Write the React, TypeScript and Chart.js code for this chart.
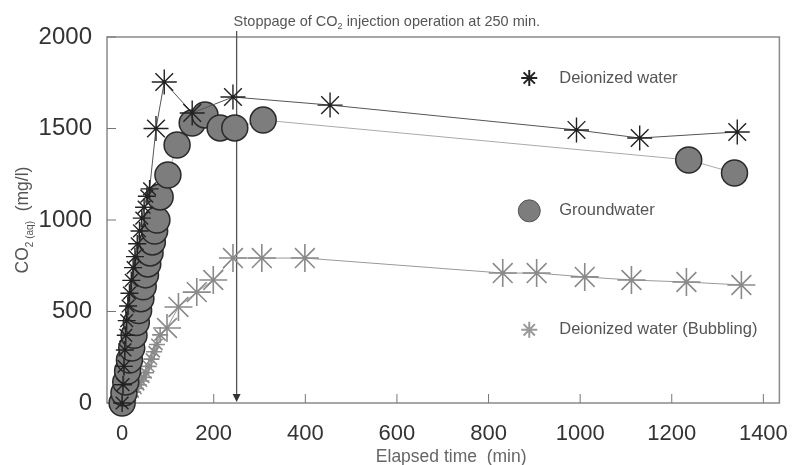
import { useEffect, useRef } from 'react';
import { Chart, registerables } from 'chart.js';
Chart.register(...registerables);

// ---- data ----
const timeDI = [0, 2, 4, 6, 8, 10, 13, 16, 20, 24, 28, 33, 38, 43, 48, 54, 60, 74, 92, 153, 242, 454, 992, 1130, 1343];
const valDI = [0, 100, 200, 290, 370, 450, 530, 600, 670, 740, 800, 870, 940, 1010, 1070, 1130, 1170, 1500, 1754, 1585, 1672, 1628, 1492, 1448, 1481];

const timeGW = [0, 4, 8, 12, 16, 21, 26, 31, 36, 41, 46, 51, 56, 61, 66, 71, 76, 83, 100, 120, 153, 181, 214, 246, 308, 1237, 1337];
const valGW = [0, 55, 115, 175, 235, 300, 370, 440, 505, 570, 635, 700, 760, 820, 880, 940, 1000, 1126, 1246, 1410, 1530, 1574, 1503, 1503, 1546, 1328, 1257];

const timeBB = [0, 6, 12, 18, 24, 30, 36, 42, 47, 52, 58, 64, 70, 76, 83, 98, 123, 163, 199, 242, 305, 399, 831, 905, 1010, 1112, 1232, 1352];
const valBB = [0, 10, 25, 40, 60, 80, 100, 120, 140, 165, 200, 240, 280, 320, 372, 410, 525, 606, 672, 792, 792, 792, 710, 710, 689, 672, 661, 645];

const xTicks = [0, 200, 400, 600, 800, 1000, 1200, 1400];
const yTicks = [0, 500, 1000, 1500, 2000];
const seriesNames = ['Deionized water', 'Groundwater', 'Deionized water (Bubbling)'];
const stopTime = 250;
const stopLabel = ['Stoppage of CO', '2', ' injection operation at 250 min.'];
const xTitle = 'Elapsed time  (min)';
const yTitle = ['CO', '2 (aq)', '  (mg/l)'];

const FONT = '"Liberation Sans", Arial, sans-serif';

const pts = (t: number[], v: number[]) => t.map((x, i) => ({ x, y: v[i] }));

function drawStar(ctx: CanvasRenderingContext2D, x: number, y: number, r: number, color: string, w: number) {
  ctx.save();
  ctx.strokeStyle = color;
  ctx.lineWidth = w;
  ctx.beginPath();
  for (let k = 0; k < 4; k++) {
    const a = (k * Math.PI) / 4;
    ctx.moveTo(x - Math.cos(a) * r, y - Math.sin(a) * r);
    ctx.lineTo(x + Math.cos(a) * r, y + Math.sin(a) * r);
  }
  ctx.stroke();
  ctx.restore();
}

const decorPlugin = {
  id: 'decor',
  beforeDatasetsDraw(chart: any) {
    const { ctx, chartArea: a, scales } = chart;
    ctx.save();
    // frame
    ctx.strokeStyle = '#8a8a8a';
    ctx.lineWidth = 1.5;
    ctx.strokeRect(a.left, a.top, a.right - a.left, a.bottom - a.top);
    // inward ticks
    ctx.strokeStyle = '#777';
    ctx.lineWidth = 1;
    ctx.beginPath();
    xTicks.forEach((v) => {
      const x = scales.x.getPixelForValue(v);
      ctx.moveTo(x, a.bottom);
      ctx.lineTo(x, a.bottom - 9);
    });
    yTicks.forEach((v) => {
      const y = scales.y.getPixelForValue(v);
      ctx.moveTo(a.left, y);
      ctx.lineTo(a.left + 9, y);
    });
    ctx.stroke();
    // stoppage line with arrow
    const sx = scales.x.getPixelForValue(stopTime);
    ctx.strokeStyle = '#555';
    ctx.lineWidth = 1.3;
    ctx.beginPath();
    ctx.moveTo(sx, a.top - 6);
    ctx.lineTo(sx, a.bottom - 6);
    ctx.stroke();
    ctx.fillStyle = '#333';
    ctx.beginPath();
    ctx.moveTo(sx - 4, a.bottom - 9);
    ctx.lineTo(sx + 4, a.bottom - 9);
    ctx.lineTo(sx, a.bottom - 1);
    ctx.closePath();
    ctx.fill();
    // stoppage label
    ctx.fillStyle = '#555';
    ctx.textBaseline = 'alphabetic';
    ctx.textAlign = 'left';
    let tx = sx - 3;
    const ty = a.top - 11;
    ctx.font = `14.5px ${FONT}`;
    ctx.fillText(stopLabel[0], tx, ty);
    tx += ctx.measureText(stopLabel[0]).width;
    ctx.font = `9px ${FONT}`;
    ctx.fillText(stopLabel[1], tx, ty + 3);
    tx += ctx.measureText(stopLabel[1]).width;
    ctx.font = `14.5px ${FONT}`;
    ctx.fillText(stopLabel[2], tx, ty);
    ctx.restore();
  },
  afterDatasetsDraw(chart: any) {
    const { ctx, chartArea: a } = chart;
    const w = a.right - a.left;
    const h = a.bottom - a.top;
    const mx = a.left + w * 0.628;
    const ys = [a.top + h * 0.112, a.top + h * 0.475, a.top + h * 0.8];
    ctx.save();
    drawStar(ctx, mx, ys[0], 8, '#222', 2);
    ctx.beginPath();
    ctx.arc(mx, ys[1], 11, 0, Math.PI * 2);
    ctx.fillStyle = '#7d7d7d';
    ctx.fill();
    ctx.strokeStyle = '#555';
    ctx.lineWidth = 1;
    ctx.stroke();
    drawStar(ctx, mx, ys[2], 8, '#999', 2);
    ctx.fillStyle = '#555';
    ctx.font = `16.5px ${FONT}`;
    ctx.textBaseline = 'middle';
    ctx.textAlign = 'left';
    seriesNames.forEach((n, i) => ctx.fillText(n, mx + 30, ys[i]));
    // axis titles
    ctx.fillStyle = '#666';
    ctx.textAlign = 'center';
    ctx.textBaseline = 'alphabetic';
    ctx.font = `17.5px ${FONT}`;
    ctx.fillText(xTitle, (a.left + a.right) / 2 + 8, chart.height - 3);
    // y title rotated
    ctx.save();
    ctx.translate(28, (a.top + a.bottom) / 2);
    ctx.rotate(-Math.PI / 2);
    ctx.textAlign = 'left';
    ctx.fillStyle = '#555';
    const big = `17.5px ${FONT}`;
    const small = `10px ${FONT}`;
    ctx.font = big;
    const w0 = ctx.measureText(yTitle[0]).width;
    const w2 = ctx.measureText(yTitle[2]).width;
    ctx.font = small;
    const w1 = ctx.measureText(yTitle[1]).width;
    let px = -(w0 + w1 + w2) / 2;
    ctx.font = big;
    ctx.fillText(yTitle[0], px, 0);
    px += w0;
    ctx.font = small;
    ctx.fillText(yTitle[1], px, 5);
    px += w1;
    ctx.font = big;
    ctx.fillText(yTitle[2], px, 0);
    ctx.restore();
    ctx.restore();
  },
};

export default function App() {
  const ref = useRef<HTMLCanvasElement>(null);
  useEffect(() => {
    document.body.style.margin = '0';
    const chart = new Chart(ref.current!, {
      type: 'scatter',
      data: {
        datasets: [
          {
            label: seriesNames[0],
            data: pts(timeDI, valDI),
            showLine: true,
            borderColor: '#555',
            borderWidth: 1,
            pointStyle: 'star',
            pointRadius: (c: any) => (c.raw && c.raw.x < 70 ? 9 : 12.5),
            pointBorderColor: '#222',
            pointBorderWidth: 1.4,
            pointBackgroundColor: '#222',
            clip: false,
          },
          {
            label: seriesNames[1],
            data: pts(timeGW, valGW),
            showLine: true,
            borderColor: '#aaa',
            borderWidth: 1,
            pointStyle: 'circle',
            pointRadius: 13,
            pointBackgroundColor: '#7d7d7d',
            pointBorderColor: '#2a2a2a',
            pointBorderWidth: 1.5,
            clip: false,
          },
          {
            label: seriesNames[2],
            data: pts(timeBB, valBB),
            showLine: true,
            borderColor: '#999',
            borderWidth: 1,
            pointStyle: 'star',
            pointRadius: (c: any) => (c.raw && c.raw.x < 90 ? 8 : 14),
            pointBorderColor: '#8a8a8a',
            pointBorderWidth: 1.6,
            pointBackgroundColor: '#8a8a8a',
            clip: false,
          },
        ],
      } as any,
      options: {
        animation: false,
        responsive: false,
        events: [],
        layout: { padding: { top: 37, right: 15, left: 0, bottom: 0 } },
        plugins: { legend: { display: false }, tooltip: { enabled: false } },
        scales: {
          x: {
            type: 'linear',
            min: -33,
            max: 1435,
            grid: { display: false },
            border: { display: false },
            afterBuildTicks: (s: any) => {
              s.ticks = xTicks.map((v) => ({ value: v }));
            },
            afterFit: (s: any) => {
              s.height = 62;
              s.paddingLeft = 0;
              s.paddingRight = 0;
            },
            ticks: {
              padding: 10,
              color: '#333',
              font: { size: 22, family: FONT },
              callback: (v: any) => String(v),
            },
          },
          y: {
            type: 'linear',
            min: 0,
            max: 2000,
            grid: { display: false },
            border: { display: false },
            afterBuildTicks: (s: any) => {
              s.ticks = yTicks.map((v) => ({ value: v }));
            },
            afterFit: (s: any) => {
              s.width = 107;
              s.paddingTop = 0;
              s.paddingBottom = 0;
            },
            ticks: {
              padding: 7,
              color: '#333',
              font: { size: 24, family: FONT },
              callback: (v: any) => String(v),
            },
          },
        },
      } as any,
      plugins: [decorPlugin],
    });
    return () => chart.destroy();
  }, []);
  return (
    <div style={{ width: 795, height: 465 }}>
      <canvas ref={ref} width={795} height={465} style={{ display: 'block' }} />
    </div>
  );
}
